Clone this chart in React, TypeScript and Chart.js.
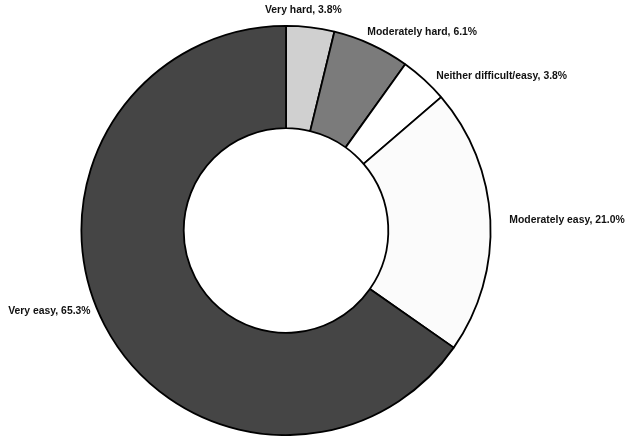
import React, { useEffect, useRef } from "react";
import { Chart, registerables } from "chart.js";

Chart.register(...registerables);

const categories = [
  "Very hard",
  "Moderately hard",
  "Neither difficult/easy",
  "Moderately easy",
  "Very easy",
];
const values = [3.8, 6.1, 3.8, 21.0, 65.3];
const sliceColors = ["#d0d0d0", "#7b7b7b", "#ffffff", "#fbfbfb", "#454545"];

// label placement tweaks (dx, dy, align) relative to the slice's outer mid-point
const labelTweaks: { dx: number; dy: number; align: CanvasTextAlign }[] = [
  { dx: -7, dy: -17, align: "center" },
  { dx: -4, dy: -12, align: "left" },
  { dx: 12, dy: -3, align: "left" },
  { dx: 19, dy: 0, align: "left" },
  { dx: -14, dy: -14, align: "right" },
];

const sliceLabels = {
  id: "sliceLabels",
  afterDatasetsDraw(chart: any) {
    const meta = chart.getDatasetMeta(0);
    const ctx = chart.ctx as CanvasRenderingContext2D;
    ctx.save();
    ctx.font = "bold 10.4px 'Liberation Sans', Arial, sans-serif";
    ctx.fillStyle = "#111";
    ctx.textBaseline = "middle";
    meta.data.forEach((arc: any, i: number) => {
      const { x, y, startAngle, endAngle, outerRadius } = arc.getProps(
        ["x", "y", "startAngle", "endAngle", "outerRadius"],
        true
      );
      const mid = (startAngle + endAngle) / 2;
      const ax = x + Math.cos(mid) * outerRadius;
      const ay = y + Math.sin(mid) * outerRadius;
      const t = labelTweaks[i];
      ctx.textAlign = t.align;
      const text = `${categories[i]}, ${values[i].toFixed(1)}%`;
      ctx.fillText(text, ax + t.dx, ay + t.dy);
    });
    ctx.restore();
  },
};

export default function App() {
  const ref = useRef<HTMLCanvasElement | null>(null);
  useEffect(() => {
    if (!ref.current) return;
    const chart = new Chart(ref.current, {
      type: "doughnut",
      data: {
        labels: categories,
        datasets: [
          {
            data: values,
            backgroundColor: sliceColors,
            borderColor: "#000000",
            borderWidth: 1.8,
          },
        ],
      },
      options: {
        animation: false,
        responsive: false,
        devicePixelRatio: 1,
        cutout: "50%",
        layout: { padding: { top: 25, bottom: 0, left: 0, right: 56 } },
        plugins: {
          legend: { display: false },
          tooltip: { enabled: false },
        },
      },
      plugins: [sliceLabels],
    });
    return () => chart.destroy();
  }, []);
  return (
    <div
      style={{
        position: "absolute",
        left: 0,
        top: 0,
        width: 628,
        height: 436,
        background: "#ffffff",
      }}
    >
      <canvas ref={ref} width={628} height={436} />
    </div>
  );
}
